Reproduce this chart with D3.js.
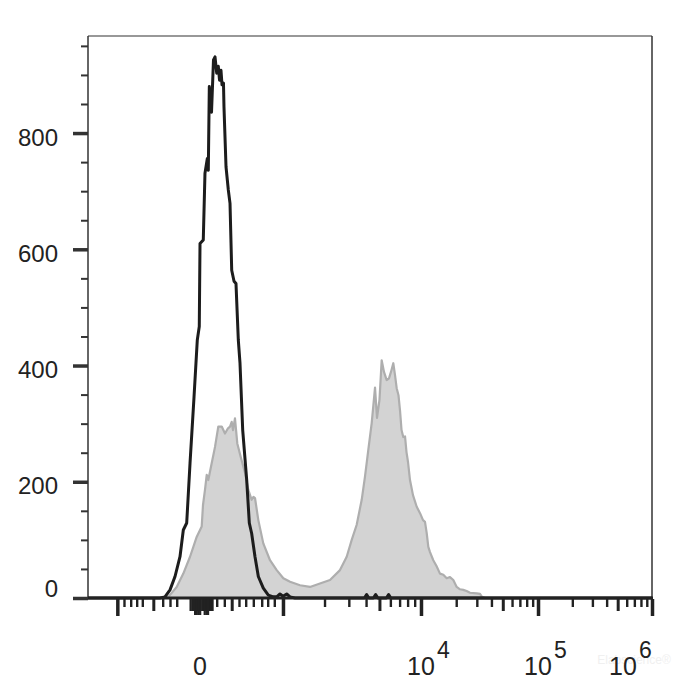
<!DOCTYPE html>
<html>
<head>
<meta charset="utf-8">
<script src="https://cdn.jsdelivr.net/npm/d3@7"></script>
<style>
  body { margin: 0; background: #fff; }
  svg { display: block; font-family: "Liberation Sans", Arial, sans-serif; }
</style>
</head>
<body>
<div id="chart"></div>
<script>
// histogram data, x in display channels (0-1000), y in counts
const blackChannel = [0, 127.7, 136.5, 145.4, 154.3, 163.1, 169, 175, 180.9, 188, 193.8, 197.3, 198.6, 204.4, 207.4, 211.5,
  213.3, 215.1, 219, 222.5, 225.2, 228.2, 231, 233.2, 235.8, 237.6, 240.2, 241.1, 244.7, 248.8, 251.8, 254.8, 258.9,
  262.4, 266.5, 269.5, 274.3, 281.4, 286, 290.2, 296.1, 302, 310.8, 319.7, 328.5, 334.6, 340.4, 345.7, 352.3, 358.2,
  367, 490, 494, 498, 506, 510, 514, 529, 533, 537, 1000]
const blackCount = [0, 0, 2, 14, 37, 71, 117, 129, 232, 346, 444, 467, 610, 616, 731, 756,
  736, 880, 836, 926, 931, 903, 915, 891, 908, 883, 886, 845, 742, 702, 679, 564, 545,
  541, 444, 404, 289, 203, 129, 111, 71, 37, 17, 5, 2, 2, 7, 3, 7, 2,
  0, 0, 6, 0, 0, 6, 0, 0, 6, 0, 0]

const grayChannel = [0, 136.5, 142.4, 157.3, 169, 180.9, 192.7, 201.6, 203.9, 207.4, 210.5, 213.3, 219.3, 225.2, 231,
  237.1, 242.9, 248.2, 251.8, 254.8, 257.1, 260.6, 264.7, 270.7, 278.4, 284.2, 290.2, 293.4, 296.1, 302, 310.8,
  322.7, 334.6, 346.3, 358.2, 375.9, 393.6, 411.3, 429.1, 446.8, 458.7, 467.6, 476.4, 485.3, 491.1, 497, 503,
  508.9, 512.4, 516.8, 520.7, 524.8, 529.6, 533.7, 537.2, 541.3, 544.3, 547.3, 550.5, 553.2, 555.9, 559, 562.1,
  564.7, 567.4, 570.9, 576.2, 582.8, 588.7, 594, 597.5, 600.5, 603.4, 606.4, 612.2, 617.9, 624.1, 630, 636,
  641.8, 647.7, 653.7, 659.6, 665.4, 671.3, 677.3, 689.2, 695, 698.6, 703.9, 1000]
const grayCount = [0, 0, 2, 19, 42, 71, 105, 123, 160, 186, 212, 203, 232, 260, 295,
  295, 283, 292, 295, 303, 289, 309, 266, 243, 215, 186, 169, 174, 172, 134, 94,
  65, 48, 34, 28, 22, 19, 25, 31, 48, 71, 100, 126, 169, 209, 255, 301,
  362, 310, 341, 409, 389, 375, 378, 389, 404, 384, 361, 349, 323, 289, 277, 278,
  251, 234, 203, 177, 157, 146, 134, 131, 112, 88, 79, 65, 55, 42, 40, 34,
  36, 31, 19, 15, 14, 12, 9, 8, 7, 2, 0, 0]

// axis ticks
const yMajorTicks = [0, 200, 400, 600, 800]
const yMinorTicks = [50, 100, 150, 250, 300, 350, 450, 500, 550, 650, 700, 750, 850, 900, 950]
const decadeChannels = [345.7, 590.4, 797.9, 1000]   // 10^3 .. 10^6
const xMajorExtra = [52]                               // -10^3
const xNearZeroMinor = [63.8, 75.7, 86.3, 96.3, 132.4, 145.4, 157.3, 228.2, 241.7, 267.7, 279.6, 293.1, 308, 318.6, 330.3]
const xNearZeroMedium = [115.8, 254.8]
const xBlockTicks = [181, 184, 187, 190, 193, 196, 199, 202, 205, 208, 211, 214, 217, 220]
const xBlockLong = [189, 192, 195, 198, 206, 209, 212]
const xLabelChannels = [198.6, 590.4, 797.9, 1000]
const xLabelBase = ["0", "10", "10", "10"]
const xLabelExp = ["", "4", "5", "6"]

const W = 700, H = 700
const mLeft = 88, mRight = 652, mTop = 36, mBottom = 598

const svg = d3.select("#chart").append("svg")
  .attr("width", W).attr("height", H)

const x = d3.scaleLinear().domain([0, 1000]).range([mLeft, mRight])
const y = d3.scaleLinear().domain([0, 967]).range([mBottom, mTop])

const grayPts = grayChannel.map((c, i) => ({c: c, n: grayCount[i]}))
const blackPts = blackChannel.map((c, i) => ({c: c, n: blackCount[i]}))

// gray filled histogram
svg.append("path")
  .datum(grayPts)
  .attr("fill", "#d3d3d3")
  .attr("d", d3.area().x(d => x(d.c)).y0(y(0)).y1(d => y(d.n)))
svg.append("path")
  .datum(grayPts)
  .attr("fill", "none")
  .attr("stroke", "#aeaeae")
  .attr("stroke-width", 2.2)
  .attr("stroke-linejoin", "round")
  .attr("d", d3.line().x(d => x(d.c)).y(d => y(d.n)))

// frame
svg.append("line").attr("x1", mLeft).attr("x2", mRight).attr("y1", mTop).attr("y2", mTop)
  .attr("stroke", "#333").attr("stroke-width", 1.2)
svg.append("line").attr("x1", mRight).attr("x2", mRight).attr("y1", mTop).attr("y2", mBottom)
  .attr("stroke", "#333").attr("stroke-width", 1.5)
svg.append("line").attr("x1", mLeft).attr("x2", mLeft).attr("y1", mTop).attr("y2", mBottom)
  .attr("stroke", "#333").attr("stroke-width", 1.5)

// black histogram line
svg.append("path")
  .datum(blackPts)
  .attr("fill", "none")
  .attr("stroke", "#1c1c1c")
  .attr("stroke-width", 3)
  .attr("stroke-linejoin", "round")
  .attr("d", d3.line().x(d => x(d.c)).y(d => y(d.n)))

// bottom baseline
svg.append("line").attr("x1", mLeft).attr("x2", mRight + 1).attr("y1", mBottom).attr("y2", mBottom)
  .attr("stroke", "#222").attr("stroke-width", 3)

// y axis
const yMajor = svg.append("g")
  .attr("transform", `translate(${mLeft},0)`)
  .call(d3.axisLeft(y).tickValues(yMajorTicks).tickSize(15).tickPadding(15))
yMajor.select(".domain").remove()
yMajor.selectAll(".tick line").attr("stroke", "#333").attr("stroke-width", 3.5)
yMajor.selectAll(".tick text")
  .attr("fill", "#222")
  .style("font-size", "24px")
  .attr("dy", d => d === 0 ? "-0.05em" : "0.5em")

const yMinor = svg.append("g")
  .attr("transform", `translate(${mLeft},0)`)
  .call(d3.axisLeft(y).tickValues(yMinorTicks).tickSize(7).tickFormat(""))
yMinor.select(".domain").remove()
yMinor.selectAll(".tick line").attr("stroke", "#333").attr("stroke-width", 2)

// x axis ticks
const xMajorVals = xMajorExtra.concat(decadeChannels)
const xMediumVals = xNearZeroMedium.slice()
const xMinorVals = xNearZeroMinor.slice()
for (let i = 0; i < decadeChannels.length - 1; i++) {
  const a = decadeChannels[i], b = decadeChannels[i + 1]
  for (let k = 2; k <= 9; k++) {
    const v = a + Math.log10(k) * (b - a)
    if (k === 5) xMediumVals.push(v)
    else xMinorVals.push(v)
  }
}

function xTicks(vals, size, width) {
  const g = svg.append("g")
    .attr("transform", `translate(0,${mBottom + 1})`)
    .call(d3.axisBottom(x).tickValues(vals).tickSize(size).tickFormat(""))
  g.select(".domain").remove()
  g.selectAll(".tick line").attr("stroke", "#222").attr("stroke-width", width)
}
xTicks(xMinorVals, 8, 2.4)
xTicks(xMediumVals, 12, 3)
xTicks(xBlockTicks, 12, 2.2)
xTicks(xBlockLong, 16, 2.2)
xTicks(xMajorVals, 17, 3.5)

// faint watermark (under the labels)
svg.append("text")
  .attr("x", 634).attr("y", 664)
  .attr("text-anchor", "middle")
  .attr("fill", "#f0f0f0")
  .style("font-size", "12px")
  .text("Elabscience®")

// x labels
const xl = svg.append("g")
xLabelChannels.forEach((c, i) => {
  const shift = i === xLabelChannels.length - 1 ? -29 : 0
  const t = xl.append("text")
    .attr("x", x(c) + shift)
    .attr("y", 675)
    .attr("fill", "#222")
    .style("font-size", "25px")
    .attr("text-anchor", xLabelExp[i] ? "start" : "middle")
  t.append("tspan").text(xLabelBase[i])
  if (xLabelExp[i]) {
    t.append("tspan").attr("dy", -17).attr("dx", 2).style("font-size", "23px").text(xLabelExp[i])
    // center the "10" part on the tick
    const baseW = t.select("tspan").node().getComputedTextLength()
    t.attr("x", x(c) + shift - baseW / 2)
  }
})
</script>
</body>
</html>
